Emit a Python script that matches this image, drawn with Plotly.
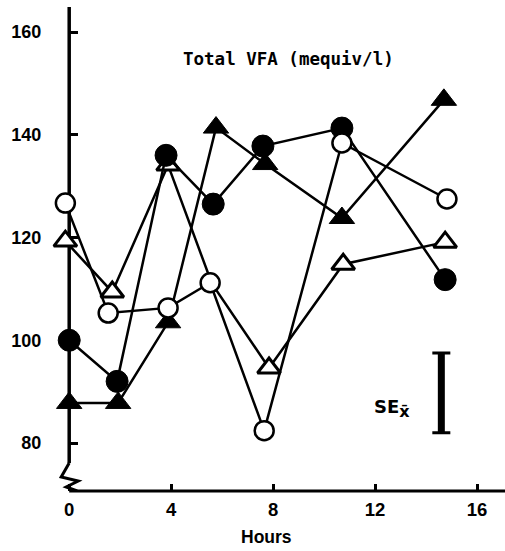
import plotly.graph_objects as go

# ---- data (hours, total VFA mequiv/l) ----
open_circle_x = [-0.15, 1.53, 3.88, 5.53, 7.65, 10.7, 14.82]
open_circle_y = [126.7, 105.3, 106.3, 111.2, 82.4, 138.4, 127.5]

filled_circle_x = [0.0, 1.88, 3.8, 5.65, 7.6, 10.7, 14.75]
filled_circle_y = [100.0, 92.0, 136.0, 126.5, 137.8, 141.3, 111.8]

filled_tri_x = [0.0, 1.92, 3.88, 5.76, 7.69, 10.7, 14.7]
filled_tri_y = [87.8, 87.8, 103.5, 141.4, 134.3, 123.8, 146.8]

open_tri_x = [-0.15, 1.69, 3.88, 5.6, 7.84, 10.75, 14.75]
open_tri_y = [119.3, 109.4, 134.1, 111.0, 94.6, 114.8, 119.1]
open_tri_visible = [1, 1, 1, 0, 1, 1, 1]   # point at 5.6 h hidden behind open circle

se_x = [14.6]
se_low = [82.0]
se_high = [97.5]

x_ticks = [0, 4, 8, 12, 16]
y_ticks = [80, 100, 120, 140, 160]

title_text = "Total VFA (mequiv/l)"
x_label = "Hours"

# ---- layout geometry ----
W, H = 505, 551
PX_PER_H = 25.5
X0_PX = 69                      # pixel of hour 0
X_RANGE = [-0.4, (W - X0_PX) / PX_PER_H]
ML = X0_PX + X_RANGE[0] * PX_PER_H
MR = 0
MT, MB = 7, 60
Y_RANGE = [70.66, 164.87]
Y_AXIS_POS = (0 - X_RANGE[0]) / (X_RANGE[1] - X_RANGE[0])

BOLD = dict(family="Liberation Sans", color="black", weight="bold")

fig = go.Figure()

LW = 2.5

fig.add_trace(go.Scatter(
    x=filled_tri_x, y=filled_tri_y, mode="lines+markers", cliponaxis=False,
    line=dict(color="black", width=LW),
    marker=dict(symbol="triangle-up", size=22, color="black",
                line=dict(color="black", width=1)),
    showlegend=False, hoverinfo="skip"))

fig.add_trace(go.Scatter(
    x=open_tri_x, y=open_tri_y, mode="lines+markers", cliponaxis=False,
    line=dict(color="black", width=LW),
    marker=dict(symbol="triangle-up", size=20, color="white",
                opacity=open_tri_visible,
                line=dict(color="#000000", width=3)),
    showlegend=False, hoverinfo="skip"))

fig.add_trace(go.Scatter(
    x=filled_circle_x, y=filled_circle_y, mode="lines+markers", cliponaxis=False,
    line=dict(color="black", width=LW),
    marker=dict(symbol="circle", size=22, color="black",
                line=dict(color="black", width=1)),
    showlegend=False, hoverinfo="skip"))

fig.add_trace(go.Scatter(
    x=open_circle_x, y=open_circle_y, mode="lines+markers", cliponaxis=False,
    line=dict(color="black", width=LW),
    marker=dict(symbol="circle", size=19, color="white",
                line=dict(color="black", width=2.5)),
    showlegend=False, hoverinfo="skip"))

# SE bar
se_mid = [(a + b) / 2 for a, b in zip(se_low, se_high)]
se_half = [(b - a) / 2 for a, b in zip(se_low, se_high)]
fig.add_trace(go.Scatter(
    x=se_x * 2, y=se_low + se_high, mode="lines",
    line=dict(color="black", width=7), showlegend=False, hoverinfo="skip"))
fig.add_trace(go.Scatter(
    x=se_x, y=se_mid, mode="markers", marker=dict(size=1, color="rgba(0,0,0,0)"),
    error_y=dict(type="data", array=se_half, color="black", thickness=3, width=9),
    showlegend=False, hoverinfo="skip"))


def ypix_to_val(py):
    top, bot = MT, H - MB
    return Y_RANGE[1] - (py - top) / (bot - top) * (Y_RANGE[1] - Y_RANGE[0])


# y-axis line with break (zigzag), drawn at hour 0
break_top = ypix_to_val(463)
fig.add_shape(type="line", xref="x", yref="y", x0=0, x1=0,
              y0=Y_RANGE[1], y1=break_top, line=dict(color="black", width=3.5),
              layer="below")
zig = [(0, 463), (-8, 477), (9, 481), (-3, 487), (8, 491)]
path = "M " + " L ".join(f"{a / PX_PER_H:.4f},{ypix_to_val(b):.4f}" for a, b in zig)
fig.add_shape(type="path", xref="x", yref="y", path=path,
              line=dict(color="black", width=3), layer="below")
# x-axis line starting at hour 0
fig.add_shape(type="line", xref="x", yref="paper", x0=0, x1=X_RANGE[1],
              y0=0, y1=0, line=dict(color="black", width=3), layer="below")

fig.add_annotation(x=8.6, y=154.7, text=title_text, showarrow=False,
                   font=dict(family="DejaVu Sans Mono", size=17.5, color="black",
                             weight="bold"))
fig.add_annotation(x=7.73, xref="x", y=-0.095, yref="paper", yanchor="middle",
                   text=x_label, showarrow=False, font=dict(size=17.5, **BOLD))
fig.add_annotation(x=12.65, y=86.8,
                   text="SE<sub><span style='font-size:16px'>x\u0304</span></sub>",
                   showarrow=False,
                   font=dict(family="DejaVu Sans", size=18, color="black",
                             weight="bold"))

fig.update_layout(
    width=W, height=H, margin=dict(l=ML, r=MR, t=MT, b=MB, pad=0),
    paper_bgcolor="white", plot_bgcolor="white",
    xaxis=dict(range=X_RANGE, showgrid=False, zeroline=False, showline=False,
               ticks="inside", ticklen=7, tickwidth=2.5, tickcolor="black",
               tickvals=x_ticks, ticktext=[str(v) for v in x_ticks],
               tickfont=dict(size=18.5, **BOLD), ticklabelstandoff=5),
    yaxis=dict(range=Y_RANGE, showgrid=False, zeroline=False, showline=False,
               anchor="free", position=Y_AXIS_POS,
               ticks="inside", ticklen=8, tickwidth=2.5, tickcolor="black",
               tickvals=y_ticks, ticktext=[str(v) for v in y_ticks],
               tickfont=dict(size=18, **BOLD), ticklabelstandoff=28),
)

fig.write_html("out.html")
